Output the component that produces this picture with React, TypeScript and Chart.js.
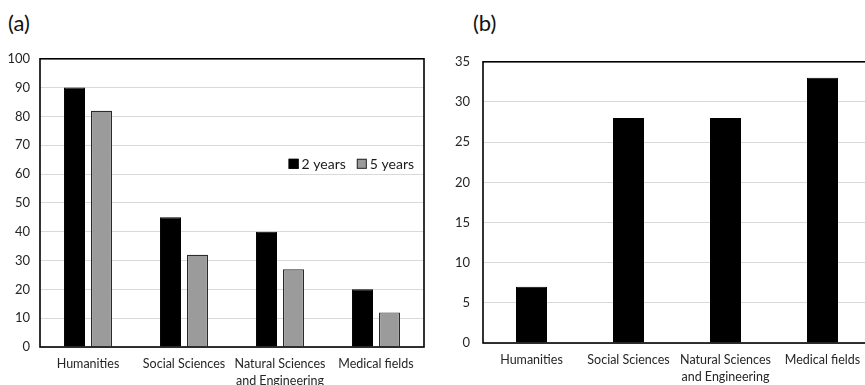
import React, { useEffect, useRef } from 'react';
import { Chart, registerables } from 'chart.js';
Chart.register(...registerables);

const categoriesA: (string | string[])[] = ['Humanities', 'Social Sciences', ['Natural Sciences', 'and Engineering'], 'Medical fields'];
const categoriesB: (string | string[])[] = ['Humanities', 'Social Sciences', ['Natural Sciences', 'and Engineering'], 'Medical fields'];
const twoYears = [90, 45, 40, 20];
const fiveYears = [82, 32, 27, 12];
const panelBValues = [7, 28, 28, 33];
const seriesLabels = ['2 years', '5 years'];
const yMaxA = 100;
const yStepA = 10;
const yMaxB = 35;
const yStepB = 5;

const FONT = 'Lato, "Open Sans", sans-serif';
const TEXT = '#262626';

const boxPlugin = {
  id: 'boxPlugin',
  afterDraw(chart: any) {
    const { ctx, chartArea } = chart;
    ctx.save();
    ctx.strokeStyle = '#000';
    ctx.lineWidth = 1.6;
    ctx.strokeRect(chartArea.left, chartArea.top, chartArea.right - chartArea.left, chartArea.bottom - chartArea.top);
    ctx.restore();
  },
};

const innerLegend = {
  id: 'innerLegend',
  afterDraw(chart: any, _args: any, opts: any) {
    if (!opts || !opts.show) return;
    const { ctx, chartArea } = chart;
    ctx.save();
    ctx.font = `14px ${FONT}`;
    ctx.textBaseline = 'middle';
    const y = chartArea.top + opts.offsetY;
    let x = chartArea.right - opts.offsetRight;
    const items = chart.data.datasets.map((d: any) => ({ label: d.label, fill: d.backgroundColor, stroke: d.borderColor }));
    const widths = items.map((it: any) => 13 + ctx.measureText(it.label).width);
    const gap = 11;
    const total = widths.reduce((a: number, b: number) => a + b, 0) + gap * (items.length - 1);
    x = x - total;
    items.forEach((it: any, i: number) => {
      ctx.fillStyle = it.fill;
      ctx.fillRect(x, y - 5, 10, 10);
      ctx.strokeStyle = it.stroke;
      ctx.lineWidth = 1;
      ctx.strokeRect(x + 0.5, y - 4.5, 9, 9);
      ctx.fillStyle = '#1a1a1a';
      ctx.textAlign = 'left';
      ctx.fillText(it.label, x + 13, y + 0.5);
      x += widths[i] + gap;
    });
    ctx.restore();
  },
};

function makeOptions(yMax: number, yStep: number, yWidth: number, yPad: number, xHeight: number, padRight: number, legend: boolean): any {
  return {
    responsive: false,
    animation: false,
    layout: { padding: { top: 3, right: padRight, left: 0, bottom: 0 } },
    plugins: {
      legend: { display: false },
      tooltip: { enabled: false },
      innerLegend: { show: legend, offsetY: 105, offsetRight: 10 },
    },
    scales: {
      x: {
        grid: { display: false, drawTicks: false },
        border: { display: false },
        ticks: { color: TEXT, font: { family: FONT, size: 12.5, lineHeight: 1.38 }, padding: 8, maxRotation: 0, autoSkip: false },
        afterFit(scale: any) { scale.height = xHeight; },
      },
      y: {
        min: 0,
        max: yMax,
        grid: { color: '#d9d9d9', lineWidth: 1, drawTicks: false },
        border: { display: false },
        ticks: { stepSize: yStep, color: TEXT, font: { family: FONT, size: 13 }, padding: yPad },
        afterFit(scale: any) { scale.width = yWidth; },
      },
    },
  };
}

export default function App() {
  const refA = useRef<HTMLCanvasElement>(null);
  const refB = useRef<HTMLCanvasElement>(null);

  useEffect(() => {
    const chartA = new Chart(refA.current as HTMLCanvasElement, {
      type: 'bar',
      data: {
        labels: categoriesA as any,
        datasets: [
          { label: seriesLabels[0], data: twoYears, backgroundColor: '#000000', borderColor: '#000000', borderWidth: 1, categoryPercentage: 0.5625, barPercentage: 0.78 },
          { label: seriesLabels[1], data: fiveYears, backgroundColor: '#9b9b9b', borderColor: '#2a2a2a', borderWidth: 1.2, categoryPercentage: 0.5625, barPercentage: 0.78 },
        ],
      },
      options: makeOptions(yMaxA, yStepA, 40, 10, 38, 6, true),
      plugins: [boxPlugin, innerLegend],
    });
    const chartB = new Chart(refB.current as HTMLCanvasElement, {
      type: 'bar',
      data: {
        labels: categoriesB as any,
        datasets: [
          { label: seriesLabels[0], data: panelBValues, backgroundColor: '#000000', borderColor: '#000000', borderWidth: 1, categoryPercentage: 0.32, barPercentage: 1 },
        ],
      },
      options: makeOptions(yMaxB, yStepB, 53, 13, 42, 9, false),
      plugins: [boxPlugin],
    });
    return () => {
      chartA.destroy();
      chartB.destroy();
    };
  }, []);

  const titleStyle: React.CSSProperties = {
    position: 'absolute',
    top: 10,
    fontFamily: FONT,
    fontSize: 22,
    lineHeight: '26px',
    color: '#111',
  };

  return (
    <div style={{ position: 'fixed', left: 0, top: 0, width: 865, height: 385, overflow: 'hidden', background: '#fff' }}>
      <div style={{ ...titleStyle, left: 8 }}>(a)</div>
      <div style={{ ...titleStyle, left: 473 }}>(b)</div>
      <canvas ref={refA} width={430} height={344} style={{ position: 'absolute', left: 0, top: 41, width: 430, height: 344 }} />
      <canvas ref={refB} width={450} height={344} style={{ position: 'absolute', left: 430, top: 41, width: 450, height: 344 }} />
    </div>
  );
}
